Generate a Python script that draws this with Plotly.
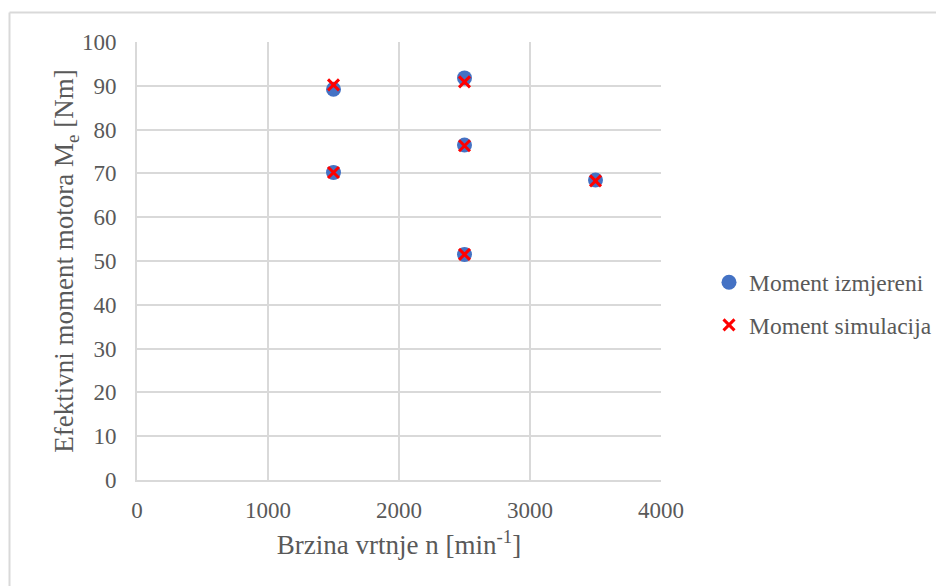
import plotly.graph_objects as go

speed_meas = [1500, 1500, 2500, 2500, 2500, 3500]
moment_meas = [89.2, 70.2, 91.8, 76.5, 51.5, 68.5]
speed_sim = [1500, 1500, 2500, 2500, 2500, 3500]
moment_sim = [90.2, 70.2, 90.9, 76.3, 51.5, 68.3]

OFF = 8  # page body margin offset
W, H = 944 - OFF, 586 - OFF
L, R, T, B = 137 - OFF, 661 - OFF, 42 - OFF, 480 - OFF
font_fam = "Liberation Serif, Times New Roman, serif"
grey = "#595959"
grid = "#d9d9d9"

fig = go.Figure()
fig.add_trace(go.Scatter(x=speed_meas, y=moment_meas, mode="markers", name="Moment izmjereni",
                         legendgroup="a",
                         marker=dict(symbol="circle", size=15, color="#4472C4")))
fig.add_trace(go.Scatter(x=speed_sim, y=moment_sim, mode="markers", name="Moment simulacija",
                         legendgroup="b",
                         marker=dict(symbol="x-thin-open", size=11, color="#FF0000",
                                     line=dict(color="#FF0000", width=3))))

pw = R - L
ph = B - T
def px(x):
    return (x - OFF - L) / pw
def py(y):
    return (B - (y - OFF)) / ph

fig.update_layout(
    width=W, height=H,
    margin=dict(l=L, r=W - R, t=T, b=H - B, pad=0, autoexpand=False),
    paper_bgcolor="white", plot_bgcolor="white",
    font=dict(family=font_fam, color=grey, size=23),
    showlegend=True,
    legend=dict(x=px(709), y=py(304), xanchor="left", yanchor="middle",
                font=dict(size=23.5, color=grey, family=font_fam),
                tracegroupgap=9, itemwidth=30, bgcolor="rgba(0,0,0,0)"),
    xaxis=dict(range=[0, 4000], tickvals=[0, 1000, 2000, 3000, 4000],
               showgrid=True, gridcolor=grid, gridwidth=2,
               showline=True, linecolor=grid, linewidth=2, mirror=False,
               zeroline=False, ticks="", ticklabelstandoff=8,
               tickfont=dict(size=23, color=grey),
               title=dict(text="Brzina vrtnje n [min<sup>-1</sup>]", font=dict(size=27, color=grey), standoff=14)),
    yaxis=dict(range=[0, 100], tickvals=list(range(0, 101, 10)),
               showgrid=True, gridcolor=grid, gridwidth=2,
               showline=True, linecolor=grid, linewidth=2,
               zeroline=False, ticks="", ticklabelstandoff=14,
               tickfont=dict(size=23, color=grey),
               title=dict(text="Efektivni moment motora M<sub>e</sub> [Nm]", font=dict(size=27, color=grey), standoff=0)),
    shapes=[
        dict(type="line", xref="paper", yref="paper", x0=px(9.5), x1=px(944), y0=py(12.5), y1=py(12.5),
             line=dict(color="#d9d9d9", width=2)),
        dict(type="line", xref="paper", yref="paper", x0=px(9.5), x1=px(9.5), y0=py(12.5), y1=py(586),
             line=dict(color="#d9d9d9", width=2)),
    ],
)

fig.write_html("out.html")
